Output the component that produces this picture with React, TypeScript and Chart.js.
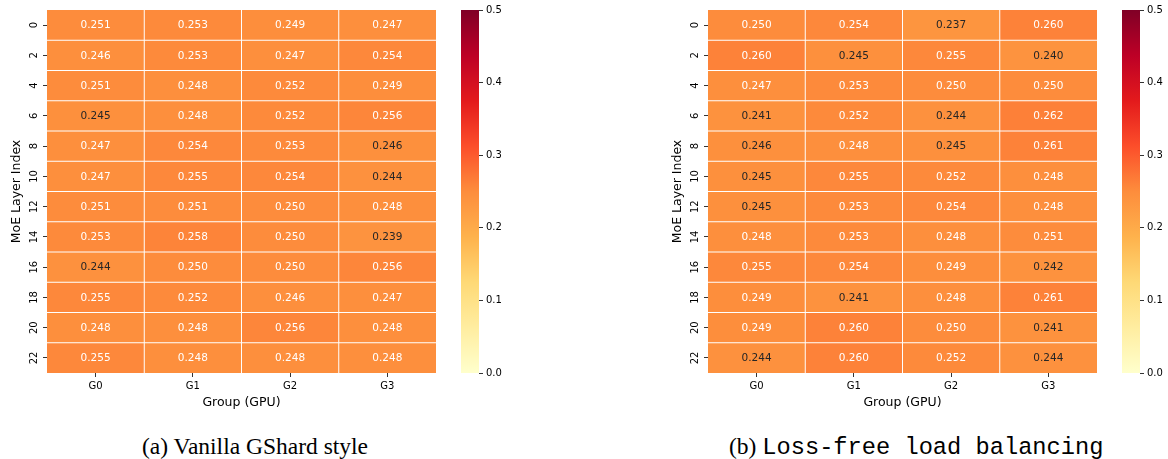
import React, { useEffect, useRef } from "react";
import { Chart, registerables } from "chart.js";

Chart.register(...registerables);
Chart.defaults.font.family = "'DejaVu Sans', sans-serif";

// ---------- data ----------
const groups = ["G0", "G1", "G2", "G3"];
const layerLabels = ["0", "2", "4", "6", "8", "10", "12", "14", "16", "18", "20", "22"];
const colorbarTicks = [0, 0.1, 0.2, 0.3, 0.4, 0.5];

const vanillaValues = [
  [0.251, 0.253, 0.249, 0.247],
  [0.2462, 0.253, 0.247, 0.254],
  [0.251, 0.248, 0.252, 0.249],
  [0.245, 0.248, 0.252, 0.256],
  [0.247, 0.254, 0.253, 0.246],
  [0.247, 0.255, 0.254, 0.244],
  [0.251, 0.251, 0.25, 0.248],
  [0.253, 0.258, 0.25, 0.239],
  [0.244, 0.25, 0.25, 0.256],
  [0.255, 0.252, 0.2462, 0.247],
  [0.248, 0.248, 0.256, 0.248],
  [0.255, 0.248, 0.248, 0.248],
];

const lossFreeValues = [
  [0.25, 0.254, 0.237, 0.26],
  [0.26, 0.245, 0.255, 0.24],
  [0.247, 0.253, 0.25, 0.25],
  [0.241, 0.252, 0.244, 0.262],
  [0.246, 0.248, 0.245, 0.261],
  [0.245, 0.255, 0.252, 0.248],
  [0.245, 0.253, 0.254, 0.248],
  [0.248, 0.253, 0.248, 0.251],
  [0.255, 0.254, 0.249, 0.242],
  [0.249, 0.241, 0.248, 0.261],
  [0.249, 0.26, 0.25, 0.241],
  [0.244, 0.26, 0.252, 0.244],
];

// ---------- colormap (YlOrRd) ----------
const YLORRD = ["#ffffcc", "#ffeda0", "#fed976", "#feb24c", "#fd8d3c", "#fc4e2a", "#e31a1c", "#bd0026", "#800026"];
const VMAX = 0.5;
const hexToRgb = (h: string) => [1, 3, 5].map((i) => parseInt(h.slice(i, i + 2), 16) / 255);
const STOPS = YLORRD.map(hexToRgb);

function cmapRgb(v: number): number[] {
  const x = v / VMAX;
  const idx = Math.min(255, Math.max(0, Math.floor(x * 256)));
  const t = idx / 255;
  const pos = t * (STOPS.length - 1);
  const i = Math.min(STOPS.length - 2, Math.floor(pos));
  const f = pos - i;
  return [0, 1, 2].map((k) => STOPS[i][k] + (STOPS[i + 1][k] - STOPS[i][k]) * f);
}
const toCss = (c: number[]) => `rgb(${c.map((k) => Math.round(k * 255)).join(",")})`;
function luminance(c: number[]) {
  const lin = c.map((k) => (k <= 0.03928 ? k / 12.92 : Math.pow((k + 0.055) / 1.055, 2.4)));
  return 0.2126 * lin[0] + 0.7152 * lin[1] + 0.0722 * lin[2];
}

const TEXT = "#000000";
const DARK = "#262626";

// ---------- heatmap plugin ----------
const heatPlugin = {
  id: "heat",
  afterDatasetsDraw(chart: any, _args: any, opts: any) {
    const { ctx, chartArea, scales } = chart;
    const xs = scales.x;
    const ys = scales.y;
    const values: number[][] = opts.values;
    ctx.save();
    // separators
    ctx.strokeStyle = "#ffffff";
    ctx.lineWidth = 1;
    ctx.beginPath();
    for (let c = 1; c < groups.length; c++) {
      const px = (xs.getPixelForValue(c - 1) + xs.getPixelForValue(c)) / 2;
      ctx.moveTo(px, chartArea.top);
      ctx.lineTo(px, chartArea.bottom);
    }
    for (let r = 1; r < layerLabels.length; r++) {
      const py = ys.getPixelForValue(r);
      ctx.moveTo(chartArea.left, py);
      ctx.lineTo(chartArea.right, py);
    }
    ctx.stroke();
    // annotations
    ctx.font = "10.5px 'DejaVu Sans'";
    ctx.textAlign = "center";
    ctx.textBaseline = "middle";
    chart.data.datasets.forEach((_ds: any, r: number) => {
      const meta = chart.getDatasetMeta(r);
      meta.data.forEach((bar: any, c: number) => {
        const v = values[r][c];
        const col = cmapRgb(v);
        ctx.fillStyle = luminance(col) > 0.408 ? DARK : "#ffffff";
        const p = bar.getCenterPoint();
        ctx.fillText(v.toFixed(3), p.x, p.y + 0.5);
      });
    });
    // rotated y tick labels
    ctx.fillStyle = TEXT;
    ctx.font = "10px 'DejaVu Sans'";
    layerLabels.forEach((lab, r) => {
      const py = ys.getPixelForValue(r + 0.5);
      ctx.save();
      ctx.translate(chartArea.left - 13, py);
      ctx.rotate(-Math.PI / 2);
      ctx.fillText(lab, 0, 0);
      ctx.restore();
    });
    ctx.restore();
  },
};

function Heatmap({ values, left }: { values: number[][]; left: number }) {
  const ref = useRef<HTMLCanvasElement>(null);
  useEffect(() => {
    const datasets = layerLabels.map((lab, r) => ({
      label: lab,
      data: groups.map(() => [r, r + 1]),
      backgroundColor: values[r].map((v) => toCss(cmapRgb(v))),
      borderWidth: 0,
      barPercentage: 1,
      categoryPercentage: 1,
      grouped: false,
    }));
    const chart = new Chart(ref.current!, {
      type: "bar",
      data: { labels: groups, datasets: datasets as any },
      options: {
        responsive: false,
        animation: false,
        layout: { padding: { top: 10, right: 4, bottom: 0, left: 0 } },
        plugins: {
          legend: { display: false },
          tooltip: { enabled: false },
          heat: { values },
        } as any,
        scales: {
          x: {
            type: "category",
            offset: true,
            grid: { offset: false, drawOnChartArea: false, tickLength: 4, color: TEXT, lineWidth: 0.8 },
            border: { display: false },
            ticks: { font: { size: 10 }, color: TEXT, padding: 3, maxRotation: 0 },
            title: {
              display: true,
              text: "Group (GPU)",
              color: TEXT,
              font: { size: 12.5 },
              padding: { top: 0, bottom: 9.5 },
            },
            afterFit: (s: any) => {
              s.height = 47;
            },
          },
          y: {
            type: "linear",
            reverse: true,
            min: 0,
            max: 12,
            afterBuildTicks: (s: any) => {
              s.ticks = layerLabels.map((_, i) => ({ value: i + 0.5 }));
            },
            grid: { drawOnChartArea: false, tickLength: 4, color: TEXT, lineWidth: 0.8 },
            border: { display: false },
            ticks: { display: false },
            title: {
              display: true,
              text: "MoE Layer Index",
              color: TEXT,
              font: { size: 12.5 },
              padding: { top: 9.5, bottom: 0 },
            },
            afterFit: (s: any) => {
              s.width = 47;
            },
          },
        },
      } as any,
      plugins: [heatPlugin],
    });
    return () => chart.destroy();
  }, [values]);
  return <canvas ref={ref} width={440} height={420} style={{ position: "absolute", left, top: 0 }} />;
}

function ColorBar({ left, width }: { left: number; width: number }) {
  const ref = useRef<HTMLCanvasElement>(null);
  useEffect(() => {
    const chart = new Chart(ref.current!, {
      type: "bar",
      data: {
        labels: [""],
        datasets: [
          {
            data: [[0, VMAX]],
            backgroundColor: (c: any) => {
              const area = c.chart.chartArea;
              if (!area) return YLORRD[4];
              const g = c.chart.ctx.createLinearGradient(0, area.bottom, 0, area.top);
              YLORRD.forEach((h, i) => g.addColorStop(i / (YLORRD.length - 1), h));
              return g;
            },
            borderWidth: 0,
            barPercentage: 1,
            categoryPercentage: 1,
          },
        ] as any,
      },
      options: {
        responsive: false,
        animation: false,
        layout: { padding: { top: 10, bottom: 47, left: 0, right: 0 } },
        plugins: { legend: { display: false }, tooltip: { enabled: false } },
        scales: {
          x: { display: false },
          y: {
            position: "right",
            min: 0,
            max: VMAX,
            afterBuildTicks: (s: any) => {
              s.ticks = colorbarTicks.map((v) => ({ value: v }));
            },
            ticks: { font: { size: 10 }, color: TEXT, padding: 3, callback: (v: any) => Number(v).toFixed(1) },
            grid: { drawOnChartArea: false, tickLength: 4, color: TEXT, lineWidth: 0.8 },
            border: { display: false },
            afterFit: (s: any) => {
              s.width = width - 18;
            },
          },
        },
      } as any,
    });
    return () => chart.destroy();
  }, [width]);
  return <canvas ref={ref} width={width} height={420} style={{ position: "absolute", left, top: 0 }} />;
}

const serif = "'Liberation Serif', 'Times New Roman', serif";
const mono = "'Liberation Mono', 'Courier New', monospace";

export default function App() {
  return (
    <div
      style={{
        position: "absolute",
        left: 0,
        top: 0,
        width: 1168,
        height: 459,
        background: "#ffffff",
        overflow: "hidden",
      }}
    >
      <Heatmap values={vanillaValues} left={0} />
      <ColorBar left={461} width={60} />
      <Heatmap values={lossFreeValues} left={661} />
      <ColorBar left={1122} width={46} />
      <div
        style={{
          position: "absolute",
          left: 142,
          top: 435,
          fontFamily: serif,
          fontSize: 23.5,
          lineHeight: 1,
          whiteSpace: "nowrap",
          color: "#000",
        }}
      >
        (a) Vanilla GShard style
      </div>
      <div
        style={{
          position: "absolute",
          left: 729,
          top: 435,
          fontFamily: serif,
          fontSize: 23.5,
          lineHeight: 1,
          whiteSpace: "nowrap",
          color: "#000",
        }}
      >
        (b) <span style={{ fontFamily: mono, fontSize: 23.7, lineHeight: 1 }}>Loss-free load balancing</span>
      </div>
    </div>
  );
}
